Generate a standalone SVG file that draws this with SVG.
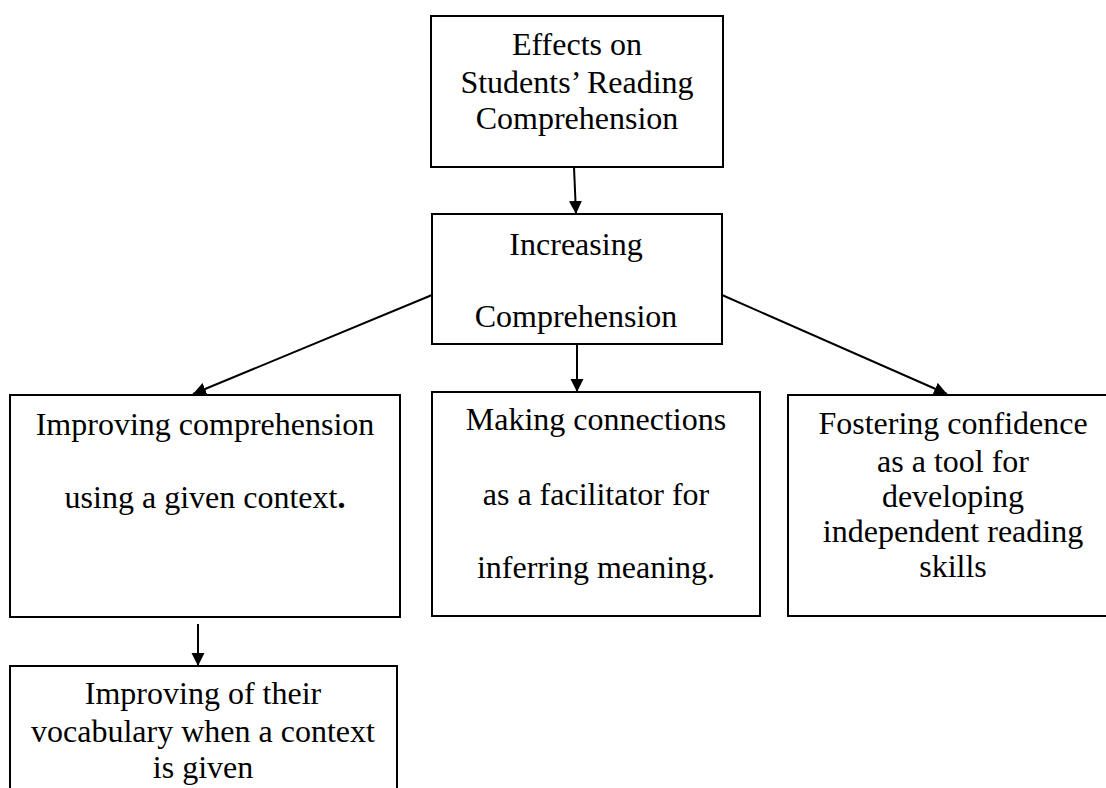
<svg xmlns="http://www.w3.org/2000/svg" width="1106" height="788" viewBox="0 0 1106 788">
  <style>
    .box { fill: #ffffff; stroke: #000000; stroke-width: 2; }
    .t { font-family: "Liberation Serif", "Times New Roman", serif; font-size: 32px; fill: #000000; text-anchor: middle; }
    .edge { stroke: #000000; stroke-width: 2; fill: none; marker-end: url(#arrow); }
  </style>
  <defs>
    <marker id="arrow" markerUnits="userSpaceOnUse" markerWidth="14" markerHeight="14" refX="13" refY="6.5" orient="auto">
      <path d="M0,0 L13,6.5 L0,13 z" fill="#000000"/>
    </marker>
  </defs>
  <rect width="1106" height="788" fill="#ffffff"/>

  <g id="connectors">
    <line class="edge" x1="574" y1="167" x2="576" y2="214"/>
    <line class="edge" x1="577" y1="344" x2="577" y2="392"/>
    <line class="edge" x1="432" y1="295" x2="193" y2="394"/>
    <line class="edge" x1="722" y1="295" x2="947" y2="394"/>
    <line class="edge" x1="198" y1="624" x2="198" y2="666"/>
  </g>

  <g id="node-effects">
    <rect class="box" x="431" y="16" width="292" height="151"/>
    <text class="t" x="577" y="55">Effects on</text>
    <text class="t" x="577" y="93">Students’ Reading</text>
    <text class="t" x="577" y="129">Comprehension</text>
  </g>

  <g id="node-increasing">
    <rect class="box" x="432" y="214" width="290" height="130"/>
    <text class="t" x="576" y="255">Increasing</text>
    <text class="t" x="576" y="327">Comprehension</text>
  </g>

  <g id="node-improving">
    <rect class="box" x="10" y="395" width="390" height="222"/>
    <text class="t" x="205" y="435">Improving comprehension</text>
    <text class="t" x="205" y="508">using a given context<tspan font-weight="bold">.</tspan></text>
  </g>

  <g id="node-making">
    <rect class="box" x="432" y="392" width="328" height="224"/>
    <text class="t" x="596" y="430">Making connections</text>
    <text class="t" x="596" y="505">as a facilitator for</text>
    <text class="t" x="596" y="578">inferring meaning.</text>
  </g>

  <g id="node-fostering">
    <rect class="box" x="788" y="395" width="332" height="221"/>
    <text class="t" x="953" y="434">Fostering confidence</text>
    <text class="t" x="953" y="472">as a tool for</text>
    <text class="t" x="953" y="507">developing</text>
    <text class="t" x="953" y="542">independent reading</text>
    <text class="t" x="953" y="577">skills</text>
  </g>

  <g id="node-vocabulary">
    <rect class="box" x="10" y="666" width="387" height="140"/>
    <text class="t" x="203" y="704">Improving of their</text>
    <text class="t" x="203" y="742">vocabulary when a context</text>
    <text class="t" x="203" y="778">is given</text>
  </g>
</svg>
